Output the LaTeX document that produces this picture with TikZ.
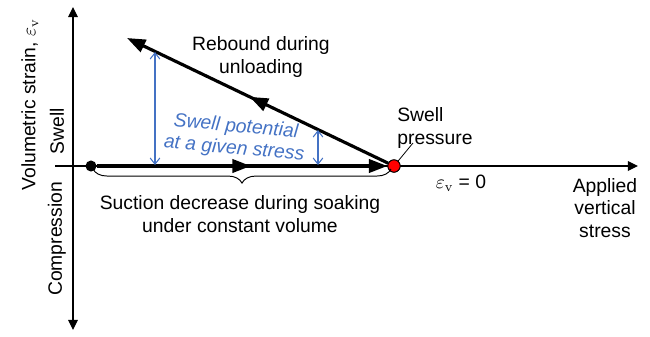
\documentclass[tikz,border=0pt]{standalone}
\usepackage{fontspec}
\setsansfont{Liberation Sans}
\usetikzlibrary{arrows.meta,decorations.pathreplacing,decorations.markings}
\definecolor{potblue}{HTML}{4472C4}

\begin{document}
\begin{tikzpicture}[
  x=0.02cm, y=-0.02cm,
  font=\sffamily\fontsize{11}{13}\selectfont,
  axis/.style={line width=0.7pt, -{Triangle[length=5.7pt,width=5.5pt]}},
  route/.style={line width=1.8pt, -{Triangle[length=10.5pt,width=7.5pt]}},
  midhead/.style={postaction={decorate}, decoration={markings, mark=at position #1 with {\arrow{Triangle[length=10.5pt,width=7.5pt]}}}},
  gap/.style={draw=potblue, line width=0.6pt, {Straight Barb[length=3.5pt,width=5.5pt]}-{Straight Barb[length=3.5pt,width=5.5pt]}},
  lead/.style={line width=0.45pt},
  curly/.style={line width=0.55pt, decorate, decoration={brace, amplitude=8pt}},
  lbl/.style={align=center, inner sep=0pt},
  dot/.style={circle, inner sep=0pt, minimum size=6.3pt, fill=black},
  pressdot/.style={circle, inner sep=0pt, minimum size=7pt, fill=red, draw=black, line width=0.5pt}
]
\useasboundingbox (0,0) rectangle (650,336);

\coordinate (hstart) at (55,166);
\coordinate (hend) at (638,166);
\coordinate (vlow) at (73,330);
\coordinate (vtop) at (73,7);
\draw[axis] (hstart) -- (hend);
\draw[axis, {Triangle[length=5.7pt,width=5.5pt]}-{Triangle[length=5.7pt,width=5.5pt]}] (vlow) -- (vtop);

\node[dot] (start) at (91,166) {};
\node[pressdot] (press) at (394,166) {};
\coordinate (rebend) at (127,38);

\draw[route, midhead=0.53] (start) -- (press);
\draw[route, midhead=0.53] (press) -- (rebend);
\node[pressdot] at (press) {};

\coordinate (gapAtop) at (155,52);
\coordinate (gapAbot) at (155,165);
\coordinate (gapBtop) at (318,130);
\coordinate (gapBbot) at (318,165);
\draw[gap] (gapAtop) -- (gapAbot);
\draw[gap] (gapBtop) -- (gapBbot);

\coordinate (leadend) at (413,143);
\draw[lead] (press) -- (leadend);

\coordinate (braceR) at (391,169);
\coordinate (braceL) at (93,169);
\draw[curly] (braceR) -- (braceL);

\node[lbl] (rebound) at (261,57) {Rebound during\\unloading};
\node[lbl, text=potblue, font=\sffamily\itshape\fontsize{11}{12.5}\selectfont, rotate=-5] (potential) at (235,138) {Swell potential\\at a given stress};
\node[lbl, align=left, anchor=west] (pressure) at (397,128) {Swell\\pressure};
\node[lbl] (zero) at (461,183) {$\varepsilon_{\mathrm{v}}$ = 0};
\node[lbl] (stress) at (605,208) {Applied\\vertical\\stress};
\node[lbl] (soak) at (240,214) {Suction decrease during soaking\\under constant volume};
\node[lbl, rotate=90] (strain) at (30,105) {Volumetric strain, $\varepsilon_{\mathrm{v}}$};
\node[lbl, rotate=90] (swell) at (57,131) {Swell};
\node[lbl, rotate=90] (compr) at (57,239) {Compression};
\end{tikzpicture}
\end{document}
